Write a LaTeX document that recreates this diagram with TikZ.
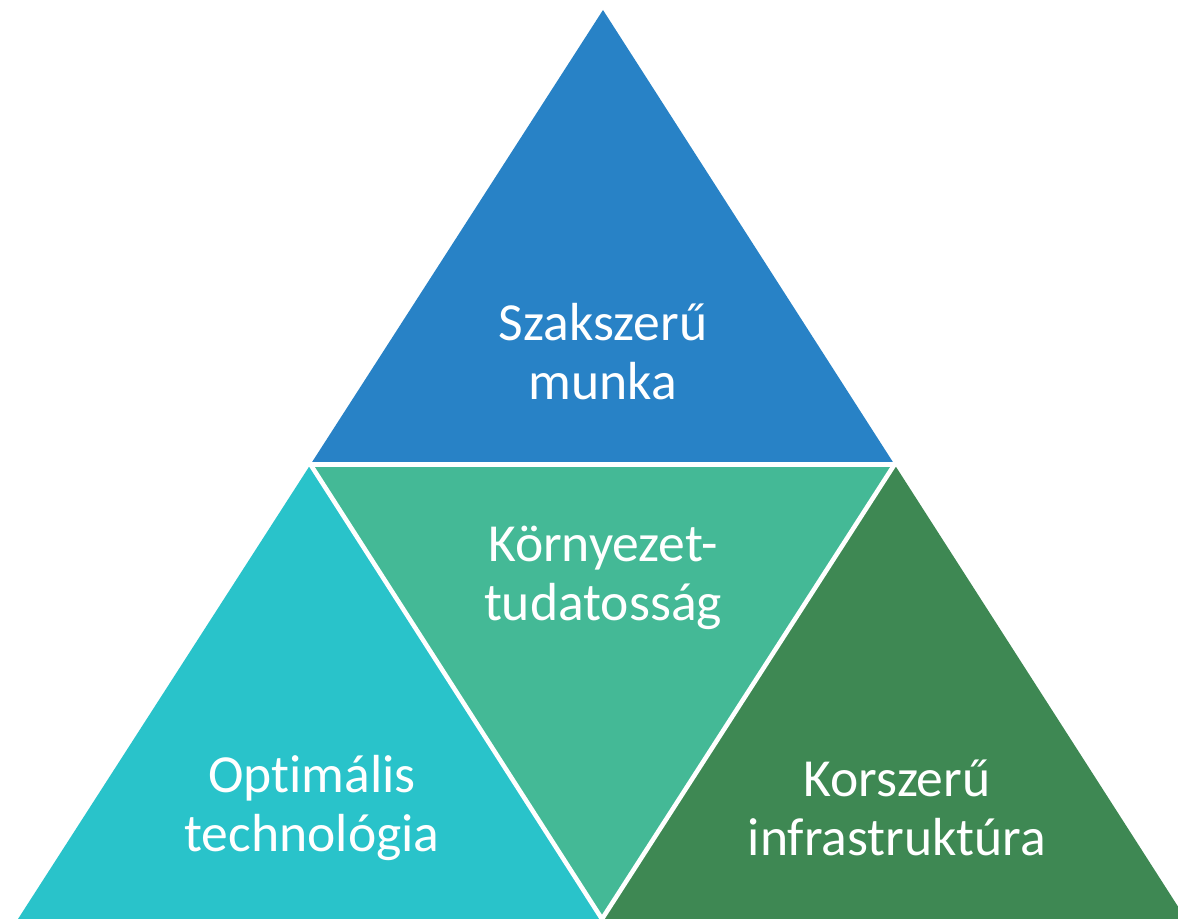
\documentclass[tikz,border=0pt]{standalone}
\usepackage{fontspec}
\setmainfont[Ligatures=NoCommon]{Carlito}
\usepackage{tikz}
\usetikzlibrary{calc}
\usepackage{xcolor}
\definecolor{pyrblue}{HTML}{2882C6}
\definecolor{pyrgreen}{HTML}{44B996}
\definecolor{pyrcyan}{HTML}{29C3CA}
\definecolor{pyrdark}{HTML}{3E8853}

\begin{document}
\begin{tikzpicture}[
    x=0.02cm, y=-0.02cm,
    part/.style={draw=white,line width=2.6pt,line join=miter},
    label/.style={font=\fontsize{30.5}{33.5}\selectfont,color=white,align=center}
]
\useasboundingbox (0,0) rectangle (1178,919);
\clip (0,0) rectangle (1178,919);
% corners of the big triangle and its edge midpoints
\coordinate (apex) at (603,10);
\coordinate (left) at (18,919);
\coordinate (right) at (1186,919);
\coordinate (midl) at ($(apex)!0.5!(left)$);
\coordinate (midr) at ($(apex)!0.5!(right)$);
\coordinate (midb) at ($(left)!0.5!(right)$);
% four parts
\fill[pyrblue] (apex) -- (midl) -- (midr) -- cycle;
\fill[pyrgreen] (midl) -- (midr) -- (midb) -- cycle;
\fill[pyrcyan] (midl) -- (left) -- (midb) -- cycle;
\fill[pyrdark] (midr) -- (midb) -- (right) -- cycle;
\draw[part] (midl) -- (midr) -- (midb) -- cycle;
% labels (kern keeps t and i apart)
\node[label] (work) at (603,352) {Szakszerű\\munka};
\node[label] (env) at (603,578) {Környezet-\\tudatosság};
\node[label] (tech) at (312,808) {Opt\kern0pt imális\\technológia};
\node[label] (infra) at (897,808) {Korszerű\\infrastruktúra};
\end{tikzpicture}
\end{document}
